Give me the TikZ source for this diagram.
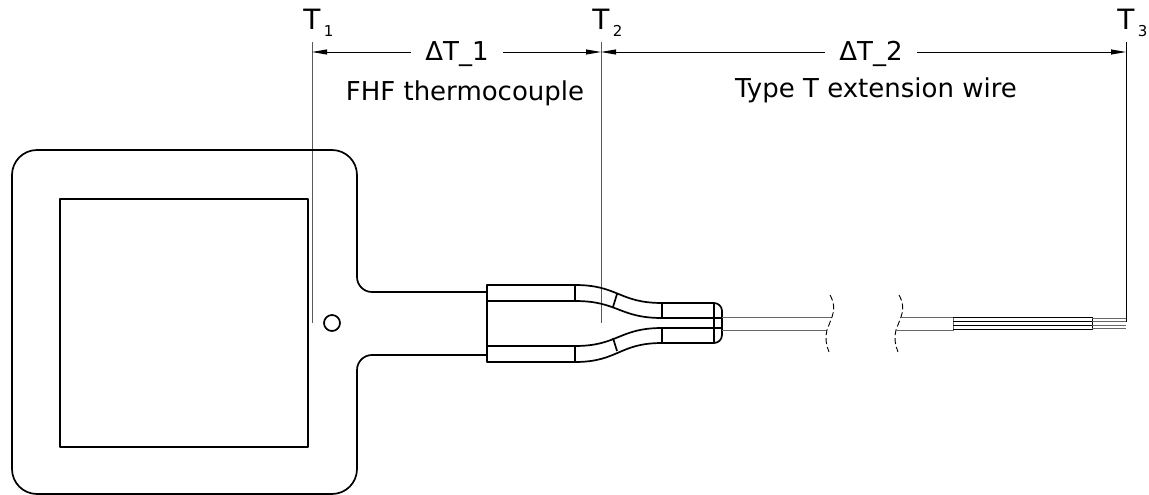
\documentclass[tikz,border=0pt]{standalone}
\usepackage{fontspec}
\setmainfont{DejaVu Sans}
\usetikzlibrary{arrows.meta}

\begin{document}
\begin{tikzpicture}[x=1pt, y=-1pt,
    outline/.style={line width=1.7pt, line join=round},
    guide/.style={gray!70!black, line width=0.9pt},
    dimline/.style={line width=0.9pt, -{Triangle[length=15pt,width=5pt]}},
    cable/.style={gray!80!black, line width=1pt},
    cut/.style={line width=0.9pt, dash pattern=on 6pt off 3pt},
    txt/.style={font=\fontsize{26}{30}\selectfont, inner sep=0pt},
    tlab/.style={font=\fontsize{28}{30}\selectfont, inner sep=0pt},
    tsub/.style={font=\fontsize{15}{17}\selectfont, inner sep=0pt}]
    \useasboundingbox (0,0) rectangle (1149,495);

    % measuring points
    \coordinate (t1top) at (312,42);
    \coordinate (t1bot) at (312,323);
    \coordinate (t2top) at (601,42);
    \coordinate (t2bot) at (601,323);
    \coordinate (t3top) at (1126,42);
    \coordinate (t3bot) at (1126,322);
    \draw [guide] (t1top) -- (t1bot);
    \draw [guide] (t2top) -- (t2bot);
    \draw [black, line width=0.9pt] (t3top) -- (t3bot);

    \node [tlab, anchor=base] (T1) at (312,30) {T};
    \node [tsub, anchor=base west] at ([xshift=3pt, yshift=-7pt]T1.base east) {1};
    \node [tlab, anchor=base] (T2) at (601,30) {T};
    \node [tsub, anchor=base west] at ([xshift=3pt, yshift=-7pt]T2.base east) {2};
    \node [tlab, anchor=base] (T3) at (1126,30) {T};
    \node [tsub, anchor=base west] at ([xshift=3pt, yshift=-7pt]T3.base east) {3};

    % dimensions
    \coordinate (a1) at (312,52);
    \coordinate (a2) at (601,52);
    \coordinate (a3) at (1126,52);
    \node [txt, anchor=base, inner xsep=14pt] (d1) at (457,60) {ΔT\_1};
    \node [txt, anchor=base, inner xsep=14pt] (d2) at (871,60) {ΔT\_2};
    \draw [dimline] (a1 -| d1.west) -- (a1);
    \draw [dimline] (a1 -| d1.east) -- (a2);
    \draw [dimline] (a1 -| d2.west) -- (a2);
    \draw [dimline] (a1 -| d2.east) -- (a3);
    \node [txt, anchor=base] (n1) at (465,100) {FHF thermocouple};
    \node [txt, anchor=base] (n2) at (876,98) {Type T extension wire};

    % sensor plate
    \draw [outline] (487,292) -- (372,292) arc[start angle=90, end angle=180, radius=15]
        -- (357,175) arc[start angle=0, end angle=-90, radius=25]
        -- (37,150) arc[start angle=270, end angle=180, radius=25]
        -- (12,469) arc[start angle=180, end angle=90, radius=25]
        -- (332,494) arc[start angle=90, end angle=0, radius=25]
        -- (357,370) arc[start angle=180, end angle=270, radius=15]
        -- (487,355);
    \draw [outline] (60,199) rectangle (308,447);
    \draw [outline] (332,323) circle[radius=8];

    % junction sleeve
    \draw [outline] (487,285) rectangle (575,301);
    \draw [outline] (487,346) rectangle (575,362);
    \draw [outline] (487,301) -- (487,346);
    \draw [outline] (575,285) .. controls (618,285) and (619,303) .. (662,303);
    \draw [outline] (575,301) .. controls (618,301) and (619,318) .. (662,318);
    \draw [outline] (575,362) .. controls (618,362) and (619,343) .. (662,343);
    \draw [outline] (575,346) .. controls (618,346) and (619,328) .. (662,328);
    \draw [outline] (617,294) -- (613,307);
    \draw [outline] (613,338) -- (617,351);
    \draw [outline] (662,318) -- (662,303) -- (714,303) arc[start angle=-90, end angle=0, radius=8]
        -- (722,335) arc[start angle=0, end angle=90, radius=8] -- (662,343) -- (662,328);
    \draw [outline] (662,318) -- (722,318);
    \draw [outline] (662,328) -- (722,328);
    \draw [outline] (714,303) -- (714,343);

    % extension wire with break
    \draw [cable] (722,317) -- (832,317);
    \draw [cable] (722,330) -- (827,330);
    \draw [cut] (830,295) .. controls (834,302) and (835,310) .. (832,317) -- (827,330)
        .. controls (825,337) and (826,345) .. (829,352);
    \draw [cut] (899,295) .. controls (903,302) and (904,310) .. (901,317) -- (896,330)
        .. controls (894,337) and (895,345) .. (898,352);
    \draw [cable] (901,317) -- (953,317) -- (953,330) -- (896,330);
    \foreach \y in {317.5,321.5,325.5,329.5}
        \draw [black, line width=0.9pt] (953,\y) -- (1092,\y);
    \draw [black, line width=0.9pt] (1092,317) -- (1092,330);
    \foreach \y in {318.5,321.5,325.5,328.5}
        \draw [cable, line width=0.8pt] (1092,\y) -- (1126,\y);
\end{tikzpicture}
\end{document}
